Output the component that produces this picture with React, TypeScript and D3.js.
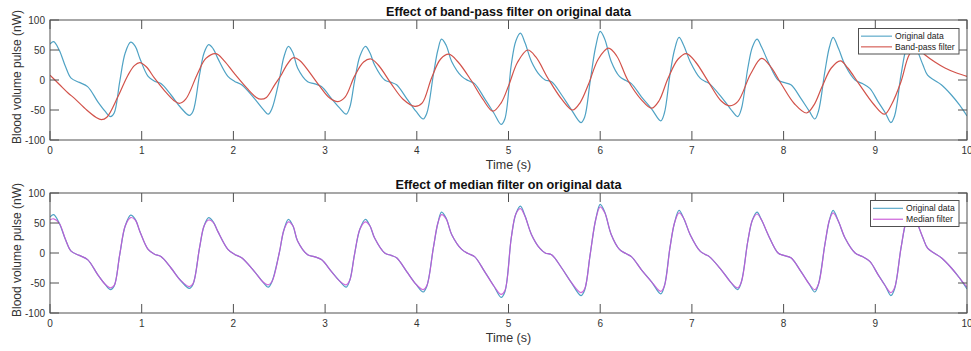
import React from "react";
import * as d3 from "d3";

// ---- data ----
const origTime = [0.00,0.04,0.10,0.17,0.23,0.32,0.41,0.52,0.60,0.66,0.70,0.76,0.82,0.88,0.93,0.98,1.07,1.14,1.21,1.32,1.42,1.52,1.56,1.63,1.68,1.73,1.78,1.83,1.94,2.01,2.09,2.23,2.32,2.38,2.42,2.50,2.55,2.60,2.65,2.70,2.81,2.88,2.96,3.07,3.16,3.23,3.27,3.32,3.38,3.44,3.49,3.54,3.65,3.72,3.78,3.89,3.99,4.07,4.11,4.18,4.23,4.27,4.32,4.38,4.49,4.56,4.63,4.74,4.84,4.92,4.96,5.03,5.08,5.13,5.18,5.25,5.34,5.40,5.47,5.58,5.68,5.79,5.83,5.89,5.95,6.00,6.05,6.12,6.21,6.28,6.34,6.45,6.56,6.66,6.70,6.76,6.81,6.86,6.91,6.98,7.09,7.14,7.19,7.32,7.42,7.50,7.54,7.61,7.66,7.71,7.76,7.83,7.94,8.00,8.08,8.19,8.28,8.34,8.38,8.45,8.50,8.54,8.60,8.67,8.78,8.86,8.94,9.03,9.11,9.17,9.21,9.28,9.34,9.40,9.47,9.52,9.57,9.64,9.72,9.83,9.92,10.00];
const origValues = [60,64,50,22,3,-4,-11,-36,-52,-61,-55,-3,45,63,56,36,6,-2,-6,-25,-45,-59,-52,8,45,59,52,36,6,-2,-8,-31,-48,-57,-48,0,38,56,45,20,-3,-6,-11,-31,-47,-57,-45,-3,40,56,45,25,0,-4,-8,-31,-52,-65,-55,8,50,68,58,31,6,-1,-6,-31,-55,-74,-65,25,65,78,62,31,8,0,-3,-25,-48,-71,-62,-3,55,81,68,31,6,-1,-6,-28,-48,-68,-55,8,50,71,58,31,3,-2,-6,-28,-48,-61,-48,20,55,68,55,31,0,-4,-8,-31,-52,-65,-52,14,55,71,52,25,0,-6,-14,-36,-55,-71,-60,8,55,75,45,25,8,0,-8,-25,-42,-60];
const medianValues = [55,57,50,22,3,-4,-11,-36,-52,-58,-54,-3,45,59,55,36,6,-2,-6,-25,-45,-56,-51,8,45,55,51,36,6,-2,-8,-31,-48,-53,-48,0,38,52,45,20,-3,-6,-11,-31,-47,-53,-45,-3,40,52,45,25,0,-4,-8,-31,-52,-61,-54,8,50,64,57,31,6,-1,-6,-31,-55,-69,-63,25,65,74,61,31,8,0,-3,-25,-48,-66,-60,-3,55,77,67,31,6,-1,-6,-28,-48,-64,-55,8,50,67,58,31,3,-2,-6,-28,-48,-58,-48,20,55,65,55,31,0,-4,-8,-31,-52,-61,-52,14,55,67,52,25,0,-6,-14,-36,-55,-66,-58,8,55,71,45,25,8,0,-8,-25,-42,-57];
const bandTime = [0.00,0.10,0.20,0.27,0.40,0.50,0.56,0.62,0.74,0.85,0.92,0.98,1.05,1.14,1.25,1.35,1.41,1.48,1.61,1.70,1.81,1.90,2.01,2.15,2.25,2.30,2.36,2.45,2.52,2.57,2.65,2.72,2.92,3.05,3.14,3.22,3.32,3.42,3.50,3.58,3.72,3.85,3.98,4.06,4.16,4.26,4.35,4.45,4.59,4.72,4.83,4.92,5.00,5.10,5.21,5.30,5.43,5.58,5.70,5.78,5.87,5.98,6.09,6.18,6.30,6.45,6.56,6.64,6.74,6.85,6.94,7.04,7.18,7.32,7.41,7.50,7.64,7.76,7.86,7.98,8.12,8.25,8.33,8.42,8.52,8.62,8.70,8.82,8.98,9.10,9.18,9.28,9.37,9.45,9.54,9.65,9.76,9.88,10.00];
const bandValues = [8,-7,-22,-31,-50,-62,-66,-62,-28,8,24,29,22,3,-18,-34,-39,-32,11,36,44,32,11,-14,-29,-32,-29,-8,8,22,37,33,-6,-30,-36,-28,6,30,35,25,-6,-32,-44,-38,3,35,43,30,0,-32,-52,-38,-10,30,50,38,3,-32,-50,-38,-8,35,53,40,0,-33,-47,-35,3,35,44,30,-3,-35,-43,-36,10,36,22,-8,-40,-55,-42,-11,20,32,20,-6,-40,-57,-40,-3,42,55,42,30,20,12,6];

const xTicks = [0,1,2,3,4,5,6,7,8,9,10];
const yTicks = [-100,-50,0,50,100];
const topTitle = "Effect of band-pass filter on original data";
const bottomTitle = "Effect of median filter on original data";
const xLabel = "Time (s)";
const yLabel = "Blood volume pulse (nW)";
const topLegend = ["Original data", "Band-pass filter"];
const bottomLegend = ["Original data", "Median filter"];

const C_ORIG = "#4fa2c4";
const C_BAND = "#d2524a";
const C_MED = "#c752d6";
const AXC = "#505050";
const FONT = "'Liberation Sans', Arial, Helvetica, sans-serif";

type PanelProps = {
  top: number; bottom: number; title: string; legend: string[];
  series: { t: number[]; v: number[]; color: string; opacity?: number; width?: number }[];
  legendBox: { x: number; y: number; w: number; h: number; lineX0: number; lineX1: number; textX: number };
  id: string;
};

const LEFT = 50, RIGHT = 967;

function Panel({ top, bottom, title, legend, series, legendBox, id }: PanelProps) {
  const x = d3.scaleLinear().domain([0, 10]).range([LEFT, RIGHT]);
  const y = d3.scaleLinear().domain([-100, 100]).range([bottom, top]);
  const tickLen = 9;
  return (
    <g>
      <defs>
        <clipPath id={id}>
          <rect x={LEFT} y={top} width={RIGHT - LEFT} height={bottom - top} />
        </clipPath>
      </defs>
      <rect x={LEFT} y={top} width={RIGHT - LEFT} height={bottom - top} fill="#fff" />
      <g clipPath={`url(#${id})`}>
        {series.map((s, i) => {
          const pts = s.t.map((t, k) => [t, s.v[k]] as [number, number]);
          const line = d3.line<[number, number]>()
            .x(d => x(d[0])).y(d => y(d[1]))
            .curve(d3.curveCatmullRom.alpha(0.5));
          return <path key={i} d={line(pts) || ""} fill="none" stroke={s.color}
            strokeWidth={s.width ?? 1.2} strokeOpacity={s.opacity ?? 1} />;
        })}
      </g>
      {/* box */}
      <rect x={LEFT} y={top} width={RIGHT - LEFT} height={bottom - top} fill="none" stroke={AXC} strokeWidth={1} />
      {xTicks.map(t => (
        <g key={"x" + t}>
          <line x1={x(t)} x2={x(t)} y1={bottom} y2={bottom - tickLen} stroke={AXC} />
          <line x1={x(t)} x2={x(t)} y1={top} y2={top + tickLen} stroke={AXC} />
          <text x={x(t)} y={bottom + 14} textAnchor="middle" fontSize={10} fill="#333" fontFamily={FONT}>{t}</text>
        </g>
      ))}
      {yTicks.map(v => (
        <g key={"y" + v}>
          <line x1={LEFT} x2={LEFT + tickLen} y1={y(v)} y2={y(v)} stroke={AXC} />
          <line x1={RIGHT} x2={RIGHT - tickLen} y1={y(v)} y2={y(v)} stroke={AXC} />
          <text x={LEFT - 5} y={y(v)} dy="0.35em" textAnchor="end" fontSize={10} fill="#333" fontFamily={FONT}>{v}</text>
        </g>
      ))}
      <text x={(LEFT + RIGHT) / 2} y={top - 4} textAnchor="middle" fontSize={12.6} fontWeight="bold" fill="#111" fontFamily={FONT}>{title}</text>
      <text x={(LEFT + RIGHT) / 2} y={bottom + 29} textAnchor="middle" fontSize={12.5} fill="#333" fontFamily={FONT}>{xLabel}</text>
      <text transform={`translate(21,${(top + bottom) / 2 - 3}) rotate(-90)`} textAnchor="middle" fontSize={12} fill="#333" fontFamily={FONT}>{yLabel}</text>
      {/* legend */}
      <g>
        <rect x={legendBox.x} y={legendBox.y} width={legendBox.w} height={legendBox.h} fill="#fff" stroke={AXC} strokeWidth={1} />
        {legend.map((l, i) => {
          const cy = legendBox.y + legendBox.h * (0.3 + 0.42 * i);
          return (
            <g key={l}>
              <line x1={legendBox.lineX0} x2={legendBox.lineX1} y1={cy} y2={cy} stroke={series[i].color} strokeWidth={1.1} />
              <text x={legendBox.textX} y={cy} dy="0.35em" fontSize={8.6} fill="#222" fontFamily={FONT}>{l}</text>
            </g>
          );
        })}
      </g>
    </g>
  );
}

export default function App() {
  return (
    <svg width={971} height={351} style={{ position: "absolute", left: 0, top: 0, background: "#fff" }}>
      <rect width={971} height={351} fill="#fff" />
      <Panel id="clipTop" top={20} bottom={140} title={topTitle} legend={topLegend}
        series={[
          { t: origTime, v: origValues, color: C_ORIG },
          { t: bandTime, v: bandValues, color: C_BAND },
        ]}
        legendBox={{ x: 858.5, y: 28.5, w: 100.5, h: 25.5, lineX0: 861, lineX1: 892, textX: 895 }} />
      <Panel id="clipBot" top={193} bottom={313} title={bottomTitle} legend={bottomLegend}
        series={[
          { t: origTime, v: origValues, color: C_ORIG },
          { t: origTime, v: medianValues, color: C_MED, opacity: 0.85 },
        ]}
        legendBox={{ x: 870.5, y: 200.5, w: 88.5, h: 26, lineX0: 873, lineX1: 903, textX: 906 }} />
    </svg>
  );
}
